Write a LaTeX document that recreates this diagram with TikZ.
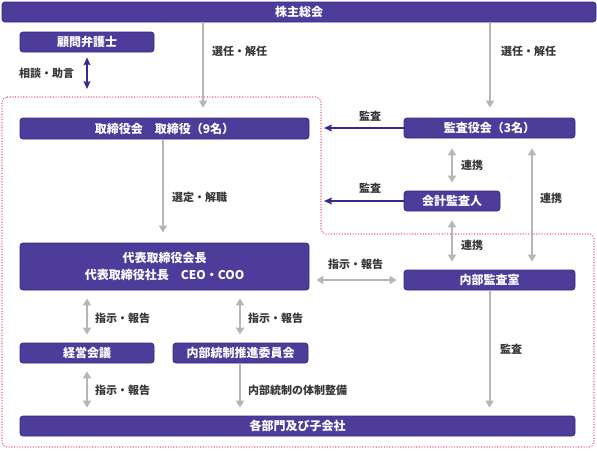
\documentclass[tikz,border=0pt]{standalone}
\usepackage{fontspec}
\setmainfont{Noto Sans CJK JP}
\usetikzlibrary{arrows.meta}
\definecolor{boxfill}{RGB}{78,60,155}
\definecolor{boxdraw}{RGB}{58,40,130}
\definecolor{arrowgray}{RGB}{182,182,182}
\definecolor{arrowpurple}{RGB}{60,40,140}
\definecolor{labelgray}{RGB}{55,55,55}
\definecolor{pinkdot}{RGB}{232,96,142}
\begin{document}
\begin{tikzpicture}[x=1pt,y=-1pt,
  box/.style={draw=boxdraw, fill=boxfill, rounded corners=3pt, text=white,
    font=\bfseries\fontsize{12}{17}\selectfont, inner sep=0pt, line width=0.8pt, align=center},
  lbl/.style={font=\bfseries\fontsize{11}{13}\selectfont, text=labelgray, anchor=west, inner sep=0pt},
  garrow/.style={draw=arrowgray, line width=2pt, -{Triangle[width=8pt,length=7pt]}},
  gboth/.style={draw=arrowgray, line width=2pt, {Triangle[width=8pt,length=7pt]}-{Triangle[width=8pt,length=7pt]}},
  parrow/.style={draw=arrowpurple, line width=1.2pt, -{Stealth[width=7pt,length=8pt,inset=1.5pt]}},
  pboth/.style={draw=arrowpurple, line width=1.2pt, {Stealth[width=7pt,length=8pt,inset=1.5pt]}-{Stealth[width=7pt,length=8pt,inset=1.5pt]}},
  region/.style={draw=pinkdot, line width=1.1pt, dash pattern=on 1.1pt off 1.6pt, rounded corners=5pt}
]
\useasboundingbox (0,0) rectangle (597,453);
% dotted region
\draw[region] (2,97) -- (321,97) -- (321,234) -- (594,234) -- (594,447) -- (2,447) -- cycle;

% boxes
\node[box, minimum width=594pt, minimum height=20pt] (sh) at (299,12) {株主総会};
\node[box, minimum width=134pt, minimum height=20pt] (law) at (87,42) {顧問弁護士};
\node[box, minimum width=289pt, minimum height=21pt] (board) at (164.5,128.5) {取締役会　取締役（9名）};
\node[box, minimum width=171pt, minimum height=20pt] (kansa) at (489.5,128) {監査役会（3名）};
\node[box, minimum width=96pt, minimum height=20pt] (auditor) at (452,201) {会計監査人};
\node[box, minimum width=289pt, minimum height=47pt] (ceo) at (164.5,266.5) {代表取締役会長\\代表取締役社長　CEO・COO};
\node[box, minimum width=171pt, minimum height=20pt] (naibu) at (489.5,280) {内部監査室};
\node[box, minimum width=134pt, minimum height=20pt] (keiei) at (87,353) {経営会議};
\node[box, minimum width=135pt, minimum height=20pt] (ntosei) at (240.5,353) {内部統制推進委員会};
\node[box, minimum width=555pt, minimum height=20pt] (depts) at (297.5,426) {各部門及び子会社};

% helper coordinates
\coordinate (xA) at (203,0);
\coordinate (xB) at (490,0);
\coordinate (xL) at (324,0);
\coordinate (xC) at (532,0);
\coordinate (xK) at (163,0);
\coordinate (xM) at (240,0);
\coordinate (lawend) at (87,89);

% connectors
\draw[garrow, shorten >=10pt] (sh.south -| xA) -- (board.north -| xA);
\draw[garrow, shorten >=10pt] (sh.south -| xB) -- (kansa.north -| xB);
\draw[pboth] ([yshift=-5pt]law.south) -- (lawend);
\draw[parrow] (kansa.west) -- (kansa.west -| xL);
\draw[parrow] (auditor.west) -- (auditor.west -| xL);
\draw[gboth, shorten <=10pt, shorten >=8pt] (kansa.south -| auditor.north) -- (auditor.north);
\draw[gboth, shorten <=10pt, shorten >=8pt] (kansa.south -| xC) -- (naibu.north -| xC);
\draw[gboth, shorten <=9pt, shorten >=8pt] (auditor.south) -- (naibu.north -| auditor.south);
\draw[garrow, shorten >=10pt] (board.south -| xK) -- (ceo.north -| xK);
\draw[gboth, shorten <=7pt, shorten >=7pt] (ceo.east |- naibu.west) -- (naibu.west);
\draw[gboth, shorten <=8pt, shorten >=8pt] (ceo.south -| keiei.north) -- (keiei.north);
\draw[gboth, shorten <=8pt, shorten >=8pt] (ceo.south -| xM) -- (ntosei.north -| xM);
\draw[gboth, shorten <=8pt, shorten >=8pt] (keiei.south) -- (depts.north -| keiei.south);
\draw[garrow, shorten >=8pt] (ntosei.south -| xM) -- (depts.north -| xM);
\draw[garrow, shorten >=8pt] (naibu.south) -- (depts.north -| naibu.south);

% labels
\node[lbl] (l1) at (19,73) {相談・助言};
\node[lbl] (l2) at (212,51) {選任・解任};
\node[lbl] (l3) at (501,51) {選任・解任};
\node[lbl] (l4) at (359,116) {監査};
\node[lbl] (l5) at (359,188) {監査};
\node[lbl] (l6) at (172,197) {選定・解職};
\node[lbl] (l7) at (461,165) {連携};
\node[lbl] (l8) at (540,198) {連携};
\node[lbl] (l9) at (461,245) {連携};
\node[lbl] (l10) at (328,264) {指示・報告};
\node[lbl] (l11) at (95,318) {指示・報告};
\node[lbl] (l12) at (248,318) {指示・報告};
\node[lbl] (l13) at (95,390) {指示・報告};
\node[lbl] (l14) at (248,390) {内部統制の体制整備};
\node[lbl] (l15) at (500,349) {監査};
\end{tikzpicture}
\end{document}
